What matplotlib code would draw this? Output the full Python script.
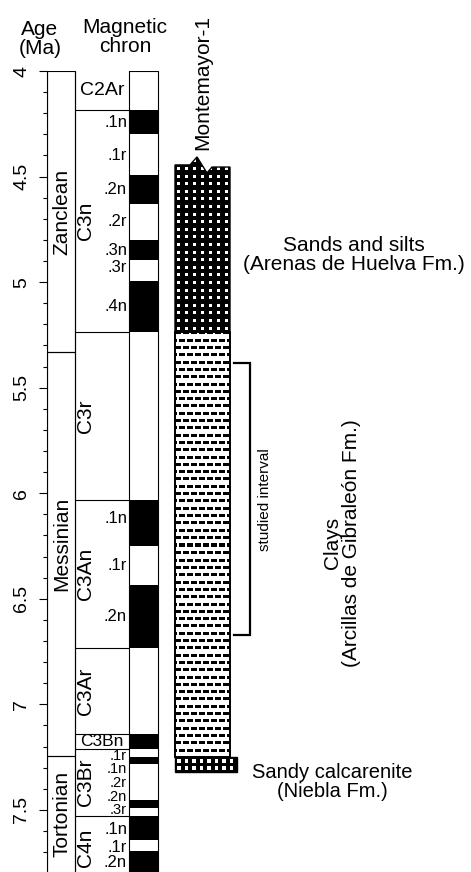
import numpy as np
import matplotlib
matplotlib.use("Agg")
import matplotlib.pyplot as plt
from matplotlib.patches import Rectangle, Polygon

plt.rcParams['font.family'] = ['Liberation Sans', 'DejaVu Sans']

# ---------------- data ----------------
stage_names = ["Zanclean", "Messinian", "Tortonian"]
stage_top = [4.0, 5.332, 7.246]
stage_base = [5.332, 7.246, 7.90]
stage_label_age = [4.67, 6.24, 7.52]

chron_names = ["C2Ar", "C3n", "C3r", "C3An", "C3Ar", "C3Bn", "C3Br", "C4n"]
chron_top = [4.0, 4.187, 5.235, 6.033, 6.733, 7.140, 7.212, 7.528]
chron_base = [4.187, 5.235, 6.033, 6.733, 7.140, 7.212, 7.528, 8.108]
chron_horizontal = [True, False, False, False, False, True, False, False]

normal_top = [4.187, 4.493, 4.799, 4.997, 6.033, 6.436, 7.140, 7.251, 7.454, 7.528, 7.695]
normal_base = [4.300, 4.631, 4.896, 5.235, 6.252, 6.733, 7.212, 7.285, 7.489, 7.642, 8.108]

sub_names = [".1n", ".1r", ".2n", ".2r", ".3n", ".3r", ".4n",
             ".1n", ".1r", ".2n",
             ".1r", ".1n", ".2r", ".2n", ".3r",
             ".1n", ".1r", ".2n"]
sub_label_age = [4.243, 4.40, 4.562, 4.715, 4.848, 4.93, 5.116,
                 6.12, 6.344, 6.585,
                 7.243, 7.308, 7.372, 7.437, 7.502,
                 7.595, 7.676, 7.75]

lith_names = ["Sands and silts\n(Arenas de Huelva Fm.)",
              "Clays\n(Arcillas de Gibraleón Fm.)",
              "Sandy calcarenite\n(Niebla Fm.)"]
lith_top = [4.450, 5.235, 7.250]
lith_base = [5.235, 7.250, 7.320]
# top of the core (zigzag "open top" symbol), ages
core_top_left, core_peak, core_notch, core_top_right = 4.445, 4.407, 4.483, 4.455

studied_top, studied_base = 5.385, 6.672

major_ticks = [4.0, 4.5, 5.0, 5.5, 6.0, 6.5, 7.0, 7.5]
major_labels = ["4", "4.5", "5", "5.5", "6", "6.5", "7", "7.5"]

# ---------------- layout (pixel-like x units) ----------------
W, H = 471, 872
PX_PER_MA = 211.1
Y_TOP_PX = 71
AGE_BOTTOM = 4.0 + (H - Y_TOP_PX) / PX_PER_MA
X_AX = 47
X_STAGE_R = 75
X_CHRON_R = 129
X_POL_R = 157.5
X_LITH_L, X_LITH_R, X_CALC_R = 175, 230, 237

fig = plt.figure(figsize=(W / 100, H / 100), dpi=100)
ax = fig.add_axes([X_AX / W, 0, (W - X_AX) / W, (H - Y_TOP_PX) / H])
ax.set_xlim(X_AX, W)
ax.set_ylim(AGE_BOTTOM, 4.0)

def age_at_px(py):
    return 4.0 + (py - Y_TOP_PX) / PX_PER_MA

for s in ["top", "right", "bottom"]:
    ax.spines[s].set_visible(False)
ax.spines["left"].set_linewidth(0.8)
ax.set_xticks([])
ax.set_yticks(major_ticks)
ax.set_yticklabels(major_labels, rotation=90, va="center", fontsize=14)
ax.set_yticks(np.arange(4.0, 7.75, 0.1), minor=True)
ax.tick_params(axis="y", which="major", length=6, width=0.8, pad=6)
ax.tick_params(axis="y", which="minor", length=3, width=0.8)

LW = 0.8

# stage column
for name, t, b, la in zip(stage_names, stage_top, stage_base, stage_label_age):
    ax.add_patch(Rectangle((X_AX, t), X_STAGE_R - X_AX, b - t, fill=False,
                           edgecolor="black", lw=LW))
    ax.text((X_AX + X_STAGE_R) / 2 + 0.5, la, name, rotation=90, ha="center",
            va="center", fontsize=15)

# chron column
ax.vlines([X_STAGE_R], 4.0, AGE_BOTTOM, color="black", lw=LW)
ax.hlines(chron_top[1:], X_STAGE_R, X_CHRON_R, color="black", lw=LW)
for name, t, b, hz in zip(chron_names, chron_top, chron_base, chron_horizontal):
    mid = (t + min(b, AGE_BOTTOM)) / 2
    if hz:
        fs = 14 if name == "C2Ar" else 12.5
        ax.text((X_STAGE_R + X_CHRON_R) / 2, mid, name, ha="center", va="center",
                fontsize=fs)
    else:
        ax.text(X_STAGE_R + 10, mid if name != "C4n" else 7.68, name, rotation=90,
                ha="center", va="center", fontsize=15)
for name, a in zip(sub_names, sub_label_age):
    fs = 10.5 if 7.2 < a < 7.53 else 12
    ax.text(X_CHRON_R - 2, a, name, ha="right", va="center", fontsize=fs)

# polarity column
ax.add_patch(Rectangle((X_CHRON_R, 4.0), X_POL_R - X_CHRON_R, 4.2, fill=False,
                       edgecolor="black", lw=LW))
for t, b in zip(normal_top, normal_base):
    ax.add_patch(Rectangle((X_CHRON_R, t), X_POL_R - X_CHRON_R, b - t,
                           facecolor="black", edgecolor="none"))

# texture helper
def texture(x0, x1, a0, a1, kind):
    p0 = ax.transData.transform((x0, a0))
    p1 = ax.transData.transform((x1, a1))
    nw = int(round(abs(p1[0] - p0[0])))
    nh = int(round(abs(p1[1] - p0[1])))
    yy, xx = np.mgrid[0:nh, 0:nw]
    if kind == "sand":
        img = np.zeros((nh, nw))
        white = ((xx - 2) % 8 < 3) & ((yy - 2) % 7.6 < 3)
        img[white] = 1
    elif kind == "clay":
        img = np.ones((nh, nw))
        row = np.floor(yy / 7.3).astype(int)
        off = np.where(row % 2 == 0, 0, 4)
        dash = ((yy % 7.3) < 3) & (((xx + off) % 8) < 5.5)
        img[dash] = 0
    else:
        img = np.zeros((nh, nw))
        white = ((xx - 2) % 7.5 < 3.5) & ((yy - 2) % 7 < 3.5)
        img[white] = 1
    im = ax.imshow(img, extent=[x0, x1, a1, a0], cmap="gray", vmin=0, vmax=1,
                   interpolation="nearest", aspect="auto", zorder=2)
    return im

# sands and silts (with zigzag top)
sand_poly = Polygon([(X_LITH_L, lith_base[0]), (X_LITH_L, core_top_left),
                     (190, core_top_left), (197, core_peak), (207, core_notch),
                     (212, core_top_right), (X_LITH_R, core_top_right),
                     (X_LITH_R, lith_base[0])], closed=True, fill=False,
                    edgecolor="black", lw=1.0, zorder=3)
ax.add_patch(sand_poly)
im = texture(X_LITH_L, X_LITH_R, core_peak, lith_base[0], "sand")
im.set_clip_path(sand_poly)

# clays
im = texture(X_LITH_L, X_LITH_R, lith_top[1], lith_base[1], "clay")
ax.add_patch(Rectangle((X_LITH_L, lith_top[1]), X_LITH_R - X_LITH_L,
                       lith_base[1] - lith_top[1], fill=False, edgecolor="black",
                       lw=1.4, zorder=3))

# sandy calcarenite
im = texture(X_LITH_L, X_CALC_R, lith_top[2], lith_base[2], "calc")
ax.add_patch(Rectangle((X_LITH_L, lith_top[2]), X_CALC_R - X_LITH_L,
                       lith_base[2] - lith_top[2], fill=False, edgecolor="black",
                       lw=1.0, zorder=3))

# studied interval bracket
ax.plot([234, 250, 250, 234], [studied_top, studied_top, studied_base, studied_base],
        color="black", lw=1.6, solid_joinstyle="miter", zorder=3)
ax.text(265, (studied_top + studied_base) / 2, "studied interval", rotation=90,
        ha="center", va="center", fontsize=11)

# lithology labels
ax.text(354, age_at_px(255), lith_names[0], ha="center", va="center",
        multialignment="center", fontsize=15, linespacing=1.05)
ax.text(342, age_at_px(543), lith_names[1], ha="center", va="center", rotation=90,
        multialignment="center", fontsize=15, linespacing=1.05)
ax.text(332, age_at_px(782), lith_names[2], ha="center", va="center",
        multialignment="center", fontsize=14.5, linespacing=1.05)

# headers
ax.text(40, age_at_px(39), "Age\n(Ma)", ha="center", va="center",
        multialignment="center", fontsize=15, linespacing=0.95)
ax.text(125, age_at_px(37), "Magnetic\nchron", ha="center", va="center",
        multialignment="center", fontsize=15, linespacing=0.95)
ax.text(203, age_at_px(150), "Montemayor-1", rotation=90, ha="center", va="bottom",
        fontsize=15)

ax.set_xlim(X_AX, W)
ax.set_ylim(AGE_BOTTOM, 4.0)

fig.savefig("out.png", dpi=100)
